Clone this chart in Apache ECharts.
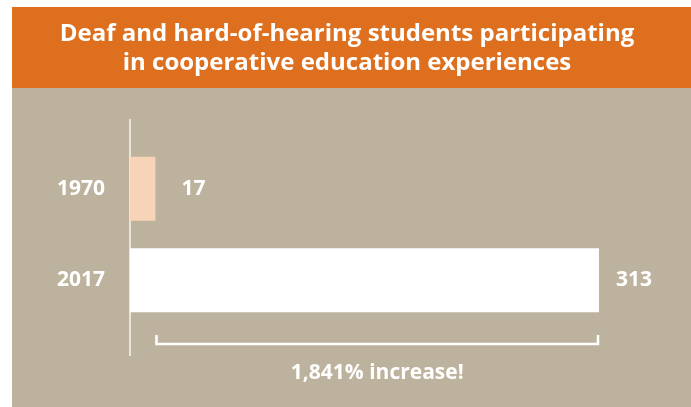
<!DOCTYPE html>
<html>
<head>
<meta charset="utf-8">
<script src="https://cdn.jsdelivr.net/npm/echarts@6/dist/echarts.min.js"></script>
<style>
  html, body { margin: 0; padding: 0; background: #ffffff; }
  #chart { width: 691px; height: 407px; }
</style>
</head>
<body>
<div id="chart"></div>
<script>
// data
const titleLines = ['Deaf and hard-of-hearing students participating', 'in cooperative education experiences'];
const years = ['1970', '2017'];
const students = [17, 313];
const increaseText = '1,841% increase!';

const font = 'Open Sans';
const chart = echarts.init(document.getElementById('chart'));

chart.setOption({
  animation: false,
  backgroundColor: '#ffffff',
  title: {
    text: titleLines.join('\n'),
    left: 342,
    top: 15,
    textAlign: 'center',
    textStyle: { color: '#ffffff', fontFamily: font, fontWeight: 'bold', fontSize: 24, lineHeight: 28.5 }
  },
  grid: { left: 130, right: 92, top: 143, bottom: 81 },
  xAxis: { type: 'value', min: 0, max: 313, show: false },
  yAxis: {
    type: 'category',
    data: years,
    inverse: true,
    axisLine: { show: false },
    axisTick: { show: false },
    splitLine: { show: false },
    axisLabel: { color: '#ffffff', fontFamily: font, fontWeight: 'bold', fontSize: 21, margin: 25 }
  },
  series: [{
    type: 'bar',
    barWidth: 64,
    z: 3,
    label: { show: true, position: 'right', color: '#ffffff', fontFamily: font, fontWeight: 'bold', fontSize: 21 },
    data: students.map((v, i) => ({
      value: v,
      itemStyle: { color: i === 0 ? '#f7d4b7' : '#ffffff' },
      label: { distance: i === 0 ? 26 : 17 }
    }))
  }]
});

// positions from the value axis
const x0 = chart.convertToPixel({ xAxisIndex: 0 }, 0);
const x1 = chart.convertToPixel({ xAxisIndex: 0 }, students[0]);
const x2 = chart.convertToPixel({ xAxisIndex: 0 }, students[1]);

chart.setOption({
  graphic: [
    // orange header band + paper background
    { type: 'rect', z: -10, shape: { x: 12, y: 7, width: 679, height: 81 }, style: { fill: '#dd6f1f' } },
    { type: 'rect', z: -10, shape: { x: 12, y: 88, width: 679, height: 319 }, style: { fill: '#bdb29d' } },
    // axis line
    { type: 'line', z: 1, shape: { x1: x0, y1: 119, x2: x0, y2: 356 }, style: { stroke: '#ece5da', lineWidth: 2 } },
    // bracket
    { type: 'polyline', z: 1, shape: { points: [[x1 + 1, 335], [x1 + 1, 344], [x2 - 1, 344], [x2 - 1, 335]] },
      style: { stroke: '#ffffff', lineWidth: 2.5, fill: null } },
    { type: 'text', z: 1, x: (x1 + x2) / 2, y: 373,
      style: { text: increaseText, fill: '#ffffff', font: 'bold 21px "Open Sans"', textAlign: 'center', textVerticalAlign: 'middle' } }
  ]
});
</script>
</body>
</html>
